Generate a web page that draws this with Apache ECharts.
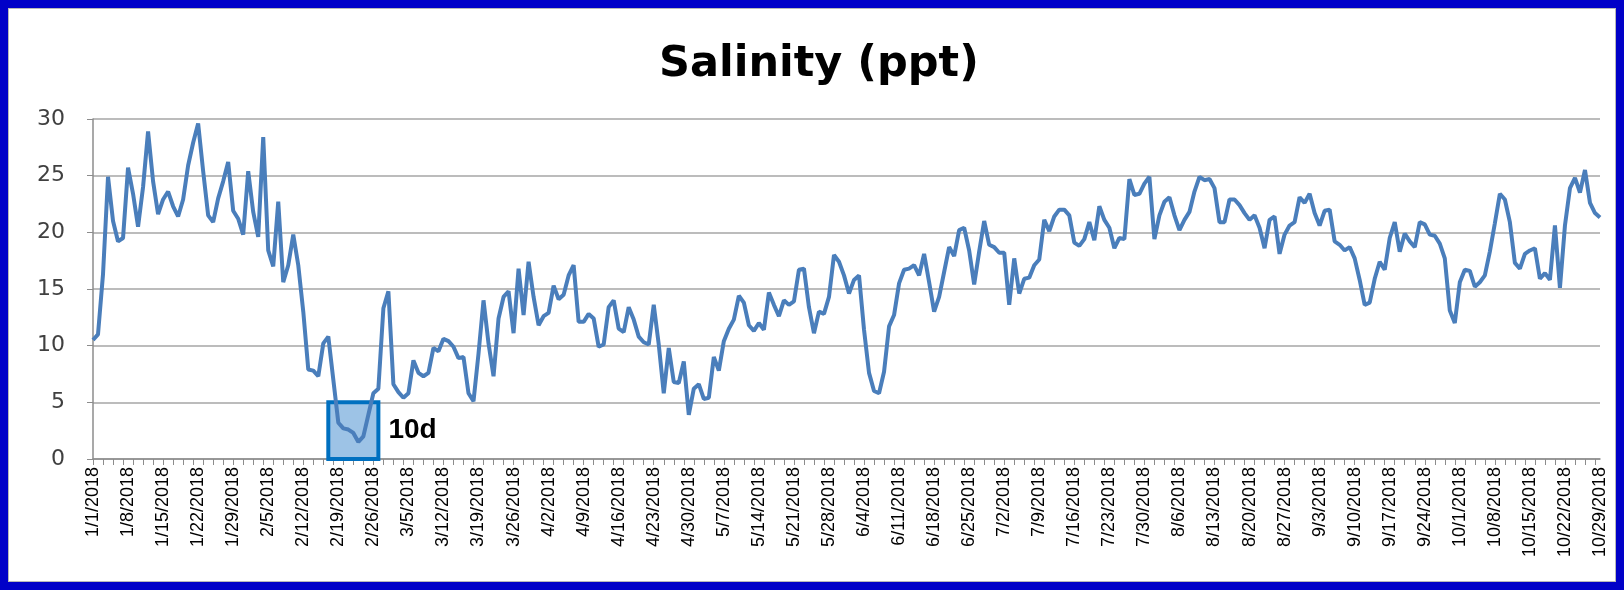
<!DOCTYPE html>
<html>
<head>
<meta charset="utf-8">
<script src="https://cdn.jsdelivr.net/npm/echarts@6/dist/echarts.min.js"></script>
<style>
  html, body { margin: 0; padding: 0; background: #fff; }
  #chart { position: absolute; left: 0; top: 0; width: 1624px; height: 590px; }
  /* blue frame around the picture */
  #frame {
    position: absolute; left: 0; top: 0; width: 1624px; height: 590px;
    box-sizing: border-box; border: 8px solid #0000c8;
    box-shadow: inset 0 0 0 1px #b8b8b8; pointer-events: none;
  }
</style>
</head>
<body>
<div id="chart"></div>
<div id="frame"></div>
<script>
// daily categories 1/1/2018 .. 10/29/2018
const startDate = [2018, 0, 1];
const dayCount = 302;
const dates = [];
for (let i = 0; i < dayCount; i++) {
  const d = new Date(Date.UTC(startDate[0], startDate[1], startDate[2] + i));
  dates.push((d.getUTCMonth() + 1) + '/' + d.getUTCDate() + '/' + d.getUTCFullYear());
}

// salinity, ppt
const salinity = [
  10.5, 11.0, 16.3, 24.9, 21.0, 19.2, 19.5, 25.7, 23.4, 20.5,
  24.0, 28.9, 24.5, 21.6, 22.9, 23.6, 22.3, 21.4, 22.9, 25.9,
  27.9, 29.6, 25.4, 21.5, 20.9, 23.0, 24.5, 26.2, 21.9, 21.2,
  19.8, 25.4, 21.8, 19.6, 28.4, 18.4, 17.0, 22.7, 15.6, 17.1,
  19.8, 17.1, 13.0, 7.9, 7.8, 7.3, 10.2, 10.8, 7.0, 3.2,
  2.7, 2.6, 2.3, 1.5, 2.0, 3.9, 5.8, 6.2, 13.3, 14.8,
  6.6, 5.9, 5.4, 5.8, 8.7, 7.6, 7.3, 7.6, 9.8, 9.5,
  10.6, 10.4, 9.9, 8.9, 9.0, 5.8, 5.1, 9.3, 14.0, 10.2,
  7.3, 12.4, 14.3, 14.8, 11.1, 16.8, 12.7, 17.4, 14.3, 11.8,
  12.6, 12.9, 15.3, 14.1, 14.5, 16.2, 17.1, 12.1, 12.1, 12.8,
  12.4, 9.9, 10.1, 13.4, 14.0, 11.5, 11.2, 13.4, 12.3, 10.8,
  10.3, 10.1, 13.6, 10.1, 5.8, 9.8, 6.8, 6.7, 8.6, 3.9,
  6.2, 6.6, 5.3, 5.4, 9.0, 7.8, 10.4, 11.5, 12.3, 14.4,
  13.8, 11.8, 11.3, 12.0, 11.4, 14.7, 13.6, 12.6, 14.0, 13.6,
  13.9, 16.7, 16.8, 13.4, 11.1, 13.0, 12.8, 14.3, 18.0, 17.4,
  16.2, 14.6, 15.8, 16.2, 11.4, 7.6, 6.0, 5.8, 7.7, 11.7,
  12.7, 15.5, 16.7, 16.8, 17.1, 16.2, 18.1, 15.6, 13.0, 14.3,
  16.5, 18.7, 17.9, 20.2, 20.4, 18.4, 15.4, 18.3, 21.0, 18.9,
  18.7, 18.2, 18.2, 13.6, 17.7, 14.6, 15.9, 16.0, 17.1, 17.6,
  21.1, 20.1, 21.4, 22.0, 22.0, 21.5, 19.1, 18.8, 19.4, 20.9,
  19.3, 22.3, 21.1, 20.4, 18.6, 19.5, 19.4, 24.7, 23.3, 23.4,
  24.3, 24.9, 19.4, 21.5, 22.7, 23.1, 21.5, 20.2, 21.1, 21.8,
  23.6, 24.9, 24.6, 24.7, 23.9, 20.9, 20.9, 22.9, 22.9, 22.4,
  21.7, 21.1, 21.5, 20.4, 18.6, 21.1, 21.4, 18.1, 19.8, 20.6,
  20.9, 23.1, 22.6, 23.4, 21.7, 20.6, 21.9, 22.0, 19.2, 18.9,
  18.4, 18.7, 17.7, 15.8, 13.6, 13.8, 15.9, 17.4, 16.7, 19.5,
  20.9, 18.3, 19.9, 19.2, 18.7, 20.9, 20.7, 19.8, 19.7, 19.0,
  17.7, 13.1, 12.0, 15.6, 16.7, 16.6, 15.2, 15.6, 16.2, 18.3,
  20.8, 23.4, 22.9, 20.9, 17.3, 16.8, 18.1, 18.4, 18.6, 15.9,
  16.4, 15.8, 20.6, 15.1, 20.6, 23.9, 24.8, 23.5, 25.5, 22.6,
  21.7, 21.3
];

// low-salinity period marked on the chart (10 days below 5 ppt)
const lowPeriod = ['2/17/2018', '2/27/2018'];
const lowLimit = [0, 5];
const lowLabel = '10d';

const chart = echarts.init(document.getElementById('chart'));

const option = {
  animation: false,
  backgroundColor: '#fff',
  title: {
    text: 'Salinity (ppt)',
    left: 654,
    top: 38,
    textStyle: {
      fontFamily: 'DejaVu Sans',
      fontWeight: 'bold',
      fontSize: 43,
      color: '#000'
    }
  },
  grid: {
    left: 93,
    right: 24,
    top: 119,
    bottom: 131
  },
  xAxis: {
    type: 'category',
    data: dates,
    boundaryGap: false,
    axisLine: { lineStyle: { color: '#8c8c8c', width: 1.5 } },
    axisTick: { show: true, interval: 1, length: 6, lineStyle: { color: '#8c8c8c' } },
    axisLabel: {
      interval: 6,
      rotate: 90,
      margin: 8,
      fontFamily: 'Liberation Sans',
      fontSize: 18,
      color: '#000'
    },
    splitLine: { show: false }
  },
  yAxis: {
    type: 'value',
    min: 0,
    max: 30,
    interval: 5,
    axisLine: { show: true, lineStyle: { color: '#8c8c8c', width: 1.5 } },
    axisTick: { show: true, length: 6, inside: false, lineStyle: { color: '#8c8c8c' } },
    axisLabel: {
      margin: 28,
      fontFamily: 'DejaVu Sans',
      fontSize: 22,
      color: '#404040'
    },
    splitLine: { lineStyle: { color: '#a6a6a6', width: 1.5 } }
  },
  series: [{
    name: 'Salinity',
    type: 'line',
    data: salinity,
    showSymbol: false,
    lineStyle: { color: '#4a7ebb', width: 4 },
    itemStyle: { color: '#4a7ebb' },
    markArea: {
      silent: true,
      itemStyle: {
        color: '#9dc3e6',
        borderColor: '#0070c0',
        borderWidth: 4
      },
      label: {
        show: true,
        position: 'right',
        distance: 8,
        formatter: lowLabel,
        fontFamily: 'Liberation Sans',
        fontWeight: 'bold',
        fontSize: 28,
        color: '#000'
      },
      data: [[
        { xAxis: lowPeriod[0], yAxis: lowLimit[0] },
        { xAxis: lowPeriod[1], yAxis: lowLimit[1] }
      ]]
    }
  }]
};

chart.setOption(option);
</script>
</body>
</html>
